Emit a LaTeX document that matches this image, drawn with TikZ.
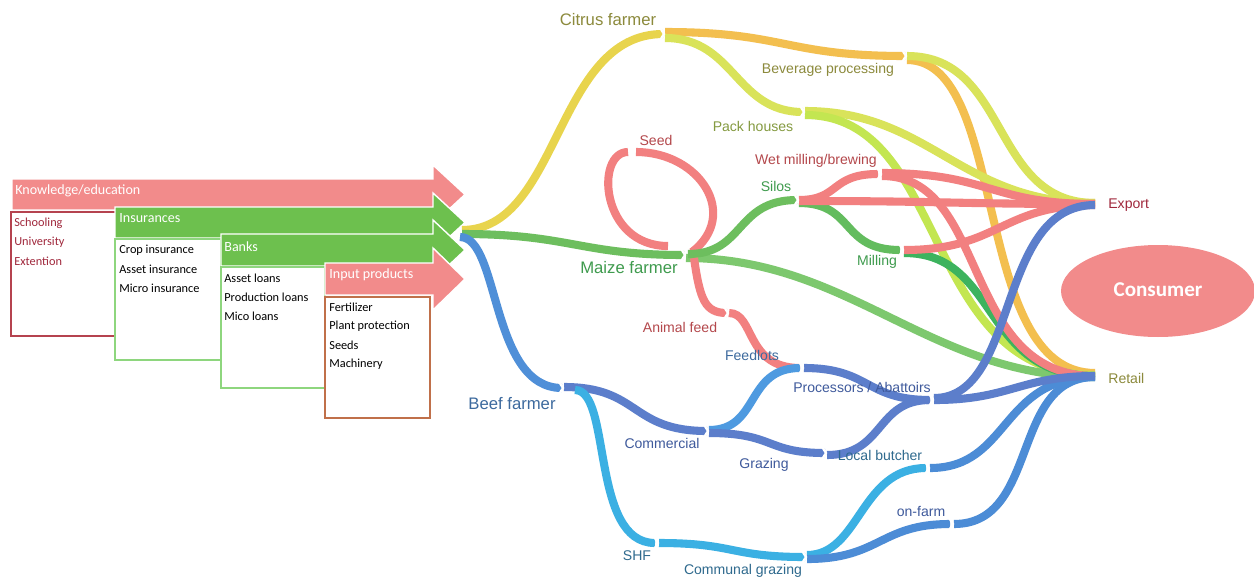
\documentclass[tikz,border=0pt]{standalone}
\usepackage{fontspec}
\setmainfont{Liberation Sans}
\newfontfamily\carlito{Carlito}
\usetikzlibrary{calc}
\definecolor{arrPink}{HTML}{F28B8B}
\definecolor{arrGreen}{HTML}{6DC04E}
\definecolor{boxRed}{HTML}{B5434F}
\definecolor{boxGreen}{HTML}{8ED67E}
\definecolor{boxBrown}{HTML}{C0704A}
\definecolor{txtRed}{HTML}{A0283C}
\definecolor{cYellow}{HTML}{E8D44D}
\definecolor{cOrange}{HTML}{F3BF4F}
\definecolor{cLime}{HTML}{D9E35A}
\definecolor{cGreen}{HTML}{6DBE5E}
\definecolor{cGreenL}{HTML}{7DC86E}
\definecolor{cGreenD}{HTML}{3DB35E}
\definecolor{cRed}{HTML}{F28080}
\definecolor{cBlue}{HTML}{4F8FD8}
\definecolor{cBlueD}{HTML}{5C7ECB}
\definecolor{cBlueM}{HTML}{4E9AE0}
\definecolor{cCyan}{HTML}{3BB0E3}
\definecolor{cBlueR}{HTML}{4C8CD6}
\definecolor{lOlive}{HTML}{8C8A3C}
\definecolor{lLime}{HTML}{849A40}
\definecolor{lRed}{HTML}{B4484C}
\definecolor{lGreen}{HTML}{3F9B4E}
\definecolor{lBlue}{HTML}{3D6A9E}
\definecolor{lBlueD}{HTML}{3F5A9C}
\definecolor{lTeal}{HTML}{2F6A8E}
\definecolor{consPink}{HTML}{F28B8B}
\tikzset{
  bigarrow/.style={draw=white, line width=0.8pt},
  alabel/.style={anchor=west, text=white, font=\carlito\fontsize{8}{9}\selectfont, inner sep=0pt},
  item/.style={anchor=west, font=\carlito\fontsize{7}{8}\selectfont, inner sep=0pt},
  infobox/.style={fill=white, line width=0.8pt},
  band/.style={line width=4.6pt, line cap=butt},
  slabel/.style={font=\fontsize{8}{9.5}\selectfont, inner sep=0pt},
  flabel/.style={font=\fontsize{9.5}{11}\selectfont, inner sep=0pt},
  notch/.pic={\draw[white, line width=1.3pt, line cap=butt] (-2.5,-5.5) -- (1,0) -- (-2.5,5.5);}
}
\begin{document}
\begin{tikzpicture}[x=0.02cm,y=-0.02cm]
\useasboundingbox (0,0) rectangle (1254,579);
\fill[white] (0,0) rectangle (1254,579);

% ---------- left arrows and boxes ----------
\filldraw[arrPink, bigarrow] (12,179) -- (433,179) -- (433,165) -- (465,194.5) -- (433,224) -- (433,210) -- (12,210) -- cycle;
\node[alabel] (knowledge) at (15,191) {Knowledge/education};
\draw[boxRed, infobox] (11,212) rectangle (117,336);
\node[item, text=txtRed] (schooling) at (14,223) {Schooling};
\node[item, text=txtRed] (university) at (14,242) {University};
\node[item, text=txtRed] (extention) at (14,261) {Extention};

\filldraw[arrGreen, bigarrow] (115,207) -- (433,207) -- (433,193) -- (465,222.5) -- (433,252) -- (433,238) -- (115,238) -- cycle;
\node[alabel] (insurances) at (119,218) {Insurances};
\draw[boxGreen, infobox] (115,239) rectangle (221,360);
\node[item] (crop) at (119,250) {Crop insurance};
\node[item] (asset) at (119,269) {Asset insurance};
\node[item] (micro) at (119,288) {Micro insurance};

\filldraw[arrGreen, bigarrow] (221,234) -- (433,234) -- (433,220) -- (465,250) -- (433,280) -- (433,266) -- (221,266) -- cycle;
\node[alabel] (banks) at (224,247) {Banks};
\draw[boxGreen, infobox] (221,267) rectangle (325,388);
\node[item] (assetl) at (224,278) {Asset loans};
\node[item] (prodl) at (224,297) {Production loans};
\node[item] (micol) at (224,316) {Mico loans};

\filldraw[arrPink, bigarrow] (325,263) -- (433,263) -- (433,248) -- (465,279) -- (433,310) -- (433,295) -- (325,295) -- cycle;
\node[alabel] (input) at (329,275) {Input products};
\draw[boxBrown, infobox] (325,297) rectangle (430,418);
\node[item] (fert) at (329,307) {Fertilizer};
\node[item] (plant) at (329,326) {Plant protection};
\node[item] (seeds) at (329,345) {Seeds};
\node[item] (mach) at (329,364) {Machinery};

% ---------- sankey node positions ----------
\coordinate (src) at (458,233);
\coordinate (citrus) at (663,34);
\coordinate (bev) at (905,56);
\coordinate (pack) at (803,112);
\coordinate (maize) at (684,255);
\coordinate (seed) at (632,153);
\coordinate (silos) at (797,200);
\coordinate (wet) at (880,174);
\coordinate (milling) at (902,250);
\coordinate (export) at (1097,206);
\coordinate (retail) at (1097,376);
\coordinate (beef) at (562,388);
\coordinate (commercial) at (707,431);
\coordinate (shf) at (657,543);
\coordinate (animalfeed) at (727,313);
\coordinate (feedlots) at (802,368);
\coordinate (grazing) at (825,453);
\coordinate (processors) at (932,400);
\coordinate (butcher) at (928,468);
\coordinate (communal) at (805,557);
\coordinate (onfarm) at (952,524);

% ---------- bands ----------
\draw[band, cYellow] ($(src)+(4,-3)$) .. controls +(98,0) and +(-108,0) .. (citrus);
\draw[band, cOrange] ($(citrus)+(2,-2)$) .. controls +(120,0) and +(-120,0) .. (bev);
\draw[band, cLime] ($(citrus)+(2,4)$) .. controls +(70,0) and +(-68,0) .. (pack);
\draw[band, cOrange] ($(bev)+(2,4)$) .. controls +(103,0) and +(-125,0) .. ($(retail)+(-2,-3)$);
\draw[band, cLime] ($(bev)+(2,0)$) .. controls +(103,0) and +(-105,0) .. ($(export)+(-2,-3)$);
\draw[band, cLime] ($(pack)+(2,-1)$) .. controls +(125,0) and +(-135,0) .. ($(export)+(-2,-3)$);
\draw[band, cLime!90!green] ($(pack)+(2,3)$) .. controls +(145,0) and +(-175,0) .. ($(retail)+(-2,-1)$);

\draw[band, cGreen] ($(src)+(4,1)$) .. controls +(108,0) and +(-104,0) .. (maize);
\draw[band, cRed] ($(maize)+(8,-3)$) .. controls +(48,-37) and +(64,0) .. ($(seed)+(4,-1)$);
\draw[band, cRed] ($(seed)+(-4,-1)$) .. controls +(-33,0) and +(-68,0) .. ($(maize)+(-16,-9)$);
\draw[band, cGreenL] ($(maize)+(2,3)$) .. controls +(164,0) and +(-165,0) .. ($(retail)+(-2,1)$);
\draw[band, cGreen] ($(maize)+(4,-1)$) .. controls +(57,0) and +(-62,0) .. (silos);
\draw[band, cRed] ($(maize)+(10,3)$) .. controls +(6,42) and +(-22,0) .. (animalfeed);
\draw[band, cRed] ($(animalfeed)+(2,0)$) .. controls +(26,0) and +(-55,0) .. ($(feedlots)+(-2,0)$);

\draw[band, cGreen!80!cGreenD] ($(silos)+(2,3)$) .. controls +(56,0) and +(-60,0) .. ($(milling)+(-2,0)$);
\draw[band, cGreenD] ($(milling)+(2,3)$) .. controls +(96,0) and +(-115,0) .. ($(retail)+(-2,0)$);
\draw[band, cRed] ($(wet)+(2,2)$) .. controls +(108,0) and +(-135,0) .. ($(retail)+(-2,0)$);
\draw[band, cRed] ($(silos)+(2,0)$) .. controls +(41,0) and +(-48,0) .. ($(wet)+(-2,0)$);
\draw[band, cRed] ($(silos)+(2,1)$) .. controls +(150,0) and +(-145,0) .. ($(export)+(-2,-2)$);
\draw[band, cRed] ($(wet)+(2,-1)$) .. controls +(108,0) and +(-105,0) .. ($(export)+(-2,-2)$);
\draw[band, cRed] ($(milling)+(2,0)$) .. controls +(96,0) and +(-95,0) .. ($(export)+(-2,-1)$);

\draw[band, cBlue] ($(src)+(2,4)$) .. controls +(40,0) and +(-72,0) .. (beef);
\draw[band, cBlueD] ($(beef)+(2,-1)$) .. controls +(76,0) and +(-77,0) .. (commercial);
\draw[band, cCyan] ($(beef)+(13,2)$) .. controls +(37,0) and +(-65,0) .. ($(shf)+(-2,0)$);
\draw[band, cBlueM] ($(commercial)+(2,-1)$) .. controls +(51,0) and +(-55,0) .. ($(feedlots)+(-2,0)$);
\draw[band, cBlueD] ($(commercial)+(2,2)$) .. controls +(66,0) and +(-60,0) .. (grazing);
\draw[band, cBlueD] ($(feedlots)+(2,0)$) .. controls +(66,0) and +(-65,0) .. ($(processors)+(-2,0)$);
\draw[band, cBlueD] ($(grazing)+(2,2)$) .. controls +(58,0) and +(-55,0) .. ($(processors)+(-2,0)$);
\draw[band, cCyan] ($(shf)+(2,0)$) .. controls +(76,0) and +(-75,0) .. (communal);
\draw[band, cCyan] ($(communal)+(2,-2)$) .. controls +(53,0) and +(-66,0) .. ($(butcher)+(-2,0)$);
\draw[band, cBlueR] ($(communal)+(2,2)$) .. controls +(73,0) and +(-70,0) .. ($(onfarm)+(-2,0)$);
\draw[band, cBlueR] ($(butcher)+(2,0)$) .. controls +(80,0) and +(-95,0) .. ($(retail)+(-2,1)$);
\draw[band, cBlueR] ($(onfarm)+(2,0)$) .. controls +(86,0) and +(-85,0) .. ($(retail)+(-2,1)$);
\draw[band, cBlueD] ($(processors)+(2,0)$) .. controls +(76,0) and +(-75,0) .. ($(retail)+(-2,0)$);
\draw[band, cBlueD] ($(processors)+(2,-2)$) .. controls +(86,0) and +(-100,0) .. ($(export)+(-2,-1)$);

% notches at nodes
\foreach \n in {citrus,bev,pack,maize,seed,silos,wet,milling,beef,commercial,shf,animalfeed,feedlots,grazing,processors,butcher,communal,onfarm}
  \pic at (\n) {notch};

% ---------- sankey labels ----------
\node[flabel, text=lOlive] (lcitrus) at (608,20) {Citrus farmer};
\node[slabel, text=lOlive] (lbev) at (828,70) {Beverage processing};
\node[slabel, text=lLime] (lpack) at (753,126) {Pack houses};
\node[slabel, text=lRed] (lseed) at (656,140) {Seed};
\node[slabel, text=lRed] (lwet) at (816,161) {Wet milling/brewing};
\node[slabel, text=lGreen] (lsilos) at (776,186) {Silos};
\node[flabel, text=lGreen] (lmaize) at (629,268) {Maize farmer};
\node[slabel, text=lGreen] (lmilling) at (877,262) {Milling};
\node[slabel, text=lRed] (lanimal) at (680,327) {Animal feed};
\node[slabel, text=lBlue] (lfeedlots) at (752,355) {Feedlots};
\node[flabel, text=lBlue] (lbeef) at (512,404) {Beef farmer};
\node[slabel, text=lBlueD] (lcommercial) at (662,443) {Commercial};
\node[slabel, text=lBlueD] (lprocessors) at (862,387) {Processors / Abattoirs};
\node[slabel, text=lBlueD] (lgrazing) at (764,465) {Grazing};
\node[slabel, text=lTeal] (lbutcher) at (880,455) {Local butcher};
\node[slabel, text=lBlueD] (lonfarm) at (921,511) {on-farm};
\node[slabel, text=lTeal] (lshf) at (637,556) {SHF};
\node[slabel, text=lTeal] (lcommunal) at (743,571) {Communal grazing};
\node[slabel, text=txtRed, anchor=west] (lexport) at (1108,205) {Export};
\node[slabel, text=lOlive, anchor=west] (lretail) at (1108,378) {Retail};

% ---------- consumer ----------
\fill[consPink] (1158,291) ellipse [x radius=1.94cm, y radius=0.92cm];
\node[text=white, font=\carlito\bfseries\fontsize{12}{14}\selectfont, inner sep=0pt] (consumer) at (1158,290) {Consumer};
\end{tikzpicture}
\end{document}
